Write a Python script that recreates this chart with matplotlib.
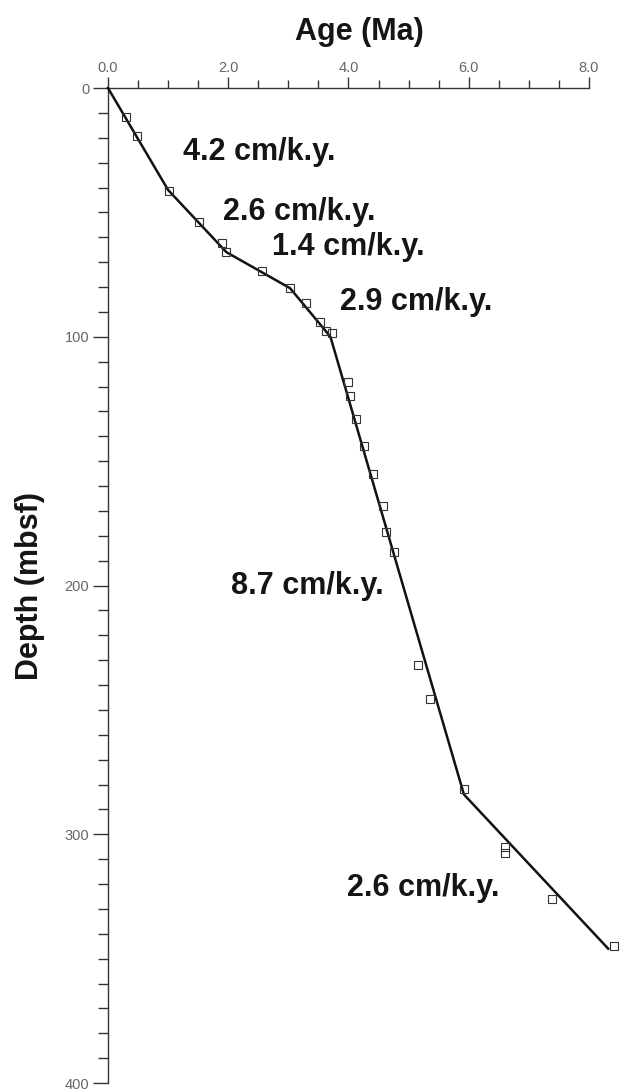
import matplotlib
matplotlib.use('Agg')
import matplotlib.pyplot as plt
from matplotlib.ticker import MultipleLocator

# age-depth control points (Ma, mbsf)
sample_age = [0.30, 0.48, 1.02, 1.52, 1.90, 1.97, 2.57, 3.03, 3.30, 3.52, 3.62, 3.72,
              4.00, 4.03, 4.13, 4.25, 4.40, 4.57, 4.63, 4.75, 5.15, 5.35,
              5.92, 6.60, 6.60, 7.38, 8.42]
sample_depth = [11.7, 19.3, 41.5, 53.7, 62.3, 65.8, 73.6, 80.4, 86.5, 94.0, 97.5, 98.5,
                118.0, 124.0, 133.0, 144.0, 155.0, 168.0, 178.5, 186.6, 232.0, 245.7,
                282.0, 305.0, 307.5, 326.0, 345.0]

# fitted sedimentation-rate segments
line_age = [0.0, 1.00, 1.97, 3.03, 3.70, 5.92, 8.32]
line_depth = [0.0, 41.0, 66.0, 80.5, 100.0, 284.0, 346.0]

rate_labels = ['4.2 cm/k.y.', '2.6 cm/k.y.', '1.4 cm/k.y.', '2.9 cm/k.y.', '8.7 cm/k.y.', '2.6 cm/k.y.']
rate_age = [2.52, 3.18, 4.0, 5.12, 3.31, 5.24]
rate_depth = [25.7, 50.0, 64.0, 86.0, 200.0, 321.7]

x_ticks = [0, 2, 4, 6, 8]
y_ticks = [0, 100, 200, 300, 400]

bold_font = ['Liberation Sans', 'DejaVu Sans']

fig = plt.figure(figsize=(6.22, 10.91), dpi=100)
ax = fig.add_axes([0.1736, 0.00733, 0.7733, 0.912])

ax.plot(line_age, line_depth, color='#111111', lw=1.8, clip_on=False, zorder=3)
ax.plot(sample_age, sample_depth, ls='none', marker='s', ms=5.2, mfc='none',
        mec='#333333', mew=0.8, clip_on=False, zorder=4)

for text, a, d in zip(rate_labels, rate_age, rate_depth):
    ax.text(a, d, text, ha='center', va='center', fontsize=22, fontweight='bold',
            family=bold_font, color='#151515')

ax.set_xlim(0, 8)
ax.set_ylim(400, 0)

for side in ['right', 'bottom']:
    ax.spines[side].set_visible(False)
for side in ['left', 'top']:
    ax.spines[side].set_linewidth(1.0)
    ax.spines[side].set_color('#333333')

ax.xaxis.tick_top()
ax.set_xticks(x_ticks)
ax.set_xticklabels([f'{v:.1f}' for v in x_ticks])
ax.xaxis.set_minor_locator(MultipleLocator(0.5))
ax.set_yticks(y_ticks)
ax.yaxis.set_minor_locator(MultipleLocator(10))

ax.tick_params(axis='x', which='major', direction='out', length=8, width=1.0,
               pad=1.5, labelsize=10.5, colors='#333333', labelcolor='#666666')
ax.tick_params(axis='x', which='minor', direction='out', length=5.5, width=1.0, colors='#333333')
ax.tick_params(axis='y', which='major', direction='out', length=10.5, width=1.0,
               pad=3, labelsize=10.5, colors='#333333', labelcolor='#666666')
ax.tick_params(axis='y', which='minor', direction='out', length=7, width=1.0, colors='#333333')
for lbl in ax.get_xticklabels() + ax.get_yticklabels():
    lbl.set_family('Liberation Sans')

ax.set_ylabel('Depth (mbsf)', fontsize=22, fontweight='bold', family=bold_font, color='#151515')
ax.yaxis.set_label_coords(-0.13, 0.5)

fig.text(359 / 622, 1 - 32 / 1091, 'Age (Ma)', ha='center', va='center', fontsize=22,
         fontweight='bold', family=bold_font, color='#151515')

fig.savefig('out.png', dpi=100)
